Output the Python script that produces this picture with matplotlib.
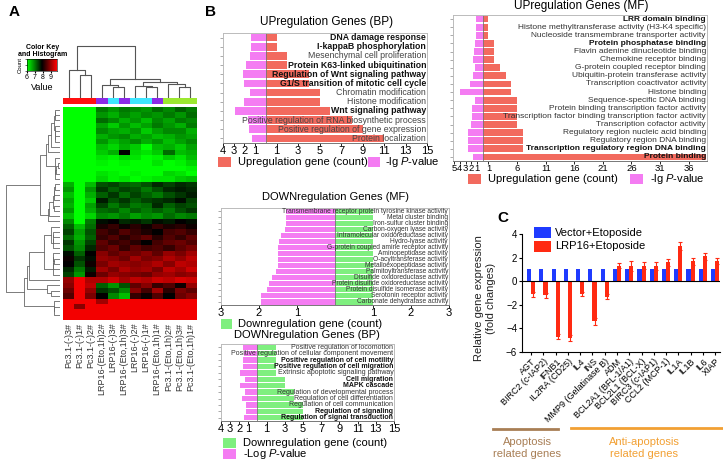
import numpy as np
import matplotlib
matplotlib.use("Agg")
import matplotlib.pyplot as plt
from matplotlib.colors import LinearSegmentedColormap, ListedColormap, Normalize
from matplotlib.patches import Rectangle

plt.rcParams["font.family"] = ["Liberation Sans", "DejaVu Sans"]
plt.rcParams["mathtext.fontset"] = "custom"
plt.rcParams["mathtext.rm"] = "Liberation Sans"
plt.rcParams["mathtext.it"] = "Liberation Sans:italic"

# ---------------- panel A: expression heatmap ----------------
samples = ["Pc3.1-(-)3#", "Pc3.1-(-)1#", "Pc3.1-(-)2#", "LRP16-(Eto,1h)2#",
           "LRP16-(-)3#", "LRP16-(Eto,1h)3#", "LRP16-(-)2#", "LRP16-(-)1#",
           "LRP16-(Eto,1h)1#", "Pc3.1-(Eto,1h)2#", "Pc3.1-(Eto,1h)3#",
           "Pc3.1-(Eto,1h)1#"]
sample_group = [0, 0, 0, 1, 2, 1, 2, 2, 1, 3, 3, 3]
group_colors = ["#FF1010", "#8C2BE8", "#3FE6FF", "#9CE830"]

expr = [
    [6.0, 6.0, 6.0, 7.0, 6.8, 7.0, 6.9, 6.8, 7.1, 6.9, 7.2, 7.0],
    [6.0, 6.0, 6.0, 6.8, 6.6, 6.9, 6.7, 6.9, 6.8, 7.0, 6.8, 7.1],
    [6.0, 6.0, 6.0, 7.1, 6.9, 6.6, 6.8, 6.5, 6.9, 6.7, 7.0, 6.9],
    [6.0, 6.0, 6.0, 6.7, 6.4, 6.8, 6.5, 6.7, 7.0, 6.8, 6.6, 7.0],
    [6.0, 6.0, 6.0, 6.9, 6.7, 6.6, 6.8, 6.4, 6.7, 6.9, 6.9, 6.6],
    [6.0, 6.0, 6.0, 6.6, 6.8, 6.9, 6.6, 6.7, 6.5, 6.6, 6.8, 6.7],
    [6.0, 6.0, 6.0, 6.8, 6.5, 6.7, 6.9, 6.6, 6.8, 6.5, 6.7, 6.9],
    [6.0, 6.0, 6.0, 6.5, 6.3, 6.6, 6.4, 6.0, 6.5, 6.6, 6.4, 6.7],
    [6.0, 6.0, 6.0, 6.4, 6.6, 7.9, 6.3, 6.2, 6.4, 7.1, 6.5, 6.6],
    [6.0, 6.0, 6.0, 6.2, 6.1, 6.3, 6.2, 6.0, 6.1, 6.4, 6.2, 6.5],
    [6.0, 6.0, 6.0, 6.1, 6.0, 6.1, 6.0, 6.0, 6.2, 6.0, 6.1, 6.3],
    [6.0, 6.0, 6.0, 6.0, 6.0, 6.0, 6.0, 6.0, 6.0, 6.0, 6.0, 6.1],
    [6.0, 6.0, 6.0, 6.2, 6.1, 6.0, 6.1, 6.0, 6.0, 6.3, 6.2, 6.0],
    [6.0, 6.0, 6.0, 6.3, 6.1, 6.2, 6.0, 6.1, 6.2, 6.2, 6.4, 6.5],
    [6.6, 6.0, 6.5, 7.3, 7.4, 7.2, 7.1, 7.3, 7.6, 7.4, 7.6, 7.5],
    [6.8, 6.0, 6.8, 7.5, 7.2, 7.4, 7.3, 7.0, 7.3, 7.6, 7.7, 7.6],
    [6.5, 6.0, 6.6, 7.2, 7.5, 7.1, 7.4, 7.2, 7.0, 7.3, 7.5, 7.7],
    [6.7, 6.0, 6.4, 7.7, 7.3, 7.5, 7.2, 7.4, 7.5, 7.6, 7.8, 7.4],
    [6.6, 6.0, 6.7, 7.4, 7.0, 7.3, 7.0, 7.1, 7.6, 7.2, 7.4, 7.3],
    [6.8, 6.0, 6.6, 7.1, 7.2, 6.9, 7.2, 7.0, 7.2, 7.0, 7.3, 7.5],
    [6.5, 6.0, 6.3, 6.9, 6.8, 7.0, 6.7, 6.9, 6.8, 7.1, 6.9, 7.0],
    [6.9, 6.0, 7.0, 7.8, 7.9, 7.6, 7.7, 7.5, 7.8, 7.7, 7.9, 7.8],
    [7.2, 6.5, 7.1, 8.1, 8.3, 8.0, 8.2, 8.0, 8.3, 8.1, 8.2, 8.0],
    [7.4, 6.7, 7.3, 8.4, 8.2, 8.5, 8.3, 8.1, 7.9, 8.4, 8.5, 8.3],
    [7.1, 6.6, 7.2, 8.3, 8.5, 8.2, 8.4, 8.6, 8.2, 8.5, 8.3, 8.6],
    [7.5, 6.8, 7.4, 8.6, 8.3, 8.4, 8.2, 7.9, 8.4, 8.6, 8.7, 8.5],
    [7.3, 6.9, 7.6, 8.5, 8.7, 8.3, 8.6, 8.4, 8.5, 8.3, 8.6, 8.8],
    [7.8, 7.2, 7.9, 8.9, 8.6, 8.8, 8.7, 8.9, 8.6, 9.0, 8.8, 9.1],
    [8.0, 7.5, 7.8, 9.0, 8.9, 8.7, 9.1, 8.8, 8.9, 9.2, 9.0, 9.3],
    [7.9, 7.3, 8.0, 8.8, 9.1, 9.0, 8.9, 9.0, 9.2, 8.9, 9.3, 9.2],
    [7.6, 7.0, 7.7, 9.1, 8.8, 9.2, 9.0, 9.1, 8.8, 9.3, 9.1, 9.4],
    [7.4, 6.8, 8.0, 8.7, 9.0, 8.9, 8.8, 8.7, 9.0, 9.1, 8.9, 9.0],
    [9.0, 9.7, 9.2, 9.2, 9.4, 9.1, 9.3, 9.2, 9.4, 9.3, 9.5, 9.4],
    [8.9, 9.7, 9.3, 7.2, 6.8, 7.3, 8.6, 8.9, 8.3, 8.5, 8.0, 9.0],
    [8.7, 9.7, 9.0, 7.5, 7.3, 6.9, 8.9, 8.4, 9.1, 8.2, 8.8, 8.6],
    [8.5, 9.7, 8.8, 7.9, 6.9, 6.5, 8.3, 8.0, 8.5, 7.9, 8.7, 8.9],
    [9.7, 9.7, 9.7, 9.1, 9.7, 9.7, 9.7, 9.7, 9.7, 9.7, 9.7, 9.7],
    [9.7, 8.9, 9.7, 9.7, 9.7, 9.7, 9.7, 9.7, 9.7, 9.7, 9.7, 9.7],
    [9.7, 9.7, 9.7, 9.7, 9.7, 9.7, 9.7, 9.7, 9.7, 9.7, 9.7, 9.7],
    [9.7, 9.7, 9.7, 9.7, 9.7, 9.7, 9.7, 9.7, 9.7, 9.7, 9.7, 9.7],
]

# sample tree: (child a, child b, height); leaves 0..11, merged clusters from 12
sample_tree = [(1, 2, 23), (0, 12, 27), (4, 5, 10.5), (3, 14, 13),
               (7, 8, 10.5), (6, 16, 12), (10, 11, 10.5), (9, 18, 13.5),
               (17, 19, 16), (15, 20, 19), (13, 21, 51)]

# ---------------- panel B: GO enrichment ----------------
bp_up_terms = ["DNA damage response", "I-kappaB phosphorylation",
               "Mesenchymal cell proliferation", "Protein K63-linked ubiquitination",
               "Regulation of Wnt signaling pathway",
               "G1/S transition of mitotic cell cycle", "Chromatin modification",
               "Histone modification", "Wnt signaling pathway",
               "Positive regulation of RNA biosynthetic process",
               "Positive regulation of gene expression", "Protein localization"]
bp_up_count = [1, 1, 2, 2, 4, 4, 5, 5, 6, 8, 9, 11]
bp_up_logp = [1.4, 1.4, 1.5, 1.9, 2.1, 2.0, 1.5, 2.0, 2.9, 1.7, 1.6, 1.3]
bp_up_bold = [1, 1, 0, 1, 1, 1, 0, 0, 1, 0, 0, 0]

mf_up_terms = ["LRR domain binding",
               "Histone methyltransferase activity (H3-K4 specific)",
               "Nucleoside transmembrane transporter activity",
               "Protein phosphatase binding", "Flavin adenine dinucleotide binding",
               "Chemokine receptor binding", "G-protein coupled receptor binding",
               "Ubiquitin-protein transferase activity",
               "Transcription coactivator activity", "Histone binding",
               "Sequence-specific DNA binding",
               "Protein binding transcription factor activity",
               "Transcription factor binding transcription factor activity",
               "Transcription cofactor activity",
               "Regulatory region nucleic acid binding",
               "Regulatory region DNA binding",
               "Transcription regulatory region DNA binding", "Protein binding"]
mf_up_count = [1, 1, 1, 2, 2, 2, 3, 4, 5, 5, 6, 6, 6, 6, 7, 7, 7, 39]
mf_up_logp = [1.2, 1.2, 1.2, 1.3, 1.5, 1.7, 1.3, 1.7, 2.3, 3.9, 1.3, 1.9,
              1.9, 2.0, 2.5, 2.5, 2.6, 1.7]
mf_up_bold = [1, 0, 0, 1, 0, 0, 0, 0, 0, 0, 0, 0, 0, 0, 0, 0, 1, 1]

mf_down_terms = ["Transmembrane receptor protein tyrosine kinase activity",
                 "Metal cluster binding", "Iron-sulfur cluster binding",
                 "Carbon-oxygen lyase activity",
                 "Intramolecular oxidoreductase activity", "Hydro-lyase activity",
                 "G-protein coupled amine receptor activity",
                 "Aminopeptidase activity", "O-acyltransferase activity",
                 "Metalloexopeptidase activity", "Palmitoyltransferase activity",
                 "Disulfide oxidoreductase activity",
                 "Protein disulfide oxidoreductase activity",
                 "Protein disulfide isomerase activity",
                 "Serotonin receptor activity", "Carbonate dehydratase activity"]
mf_down_count = [1] * 16
mf_down_logp = [1.28, 1.30, 1.30, 1.32, 1.41, 1.47, 1.50, 1.50, 1.51, 1.51,
                1.56, 1.65, 1.74, 1.79, 1.96, 1.96]

bp_down_terms = ["Positive regulation of locomotion",
                 "Positive regulation of cellular component movement",
                 "Positive regulation of cell motility",
                 "Positive regulation of cell migration",
                 "Extrinsic apoptotic signaling pathway", "Cell migration",
                 "MAPK cascade", "Regulation of developmental process",
                 "Regulation of cell differentiation",
                 "Regulation of cell communication", "Regulation of signaling",
                 "Regulation of signal transduction"]
bp_down_count = [2, 2, 2, 2, 2, 3, 3, 4, 4, 5, 5, 5]
bp_down_logp = [1.6, 1.5, 1.6, 1.6, 1.9, 1.4, 1.9, 1.4, 1.7, 1.3, 1.3, 1.5]
bp_down_bold = [0, 0, 1, 1, 0, 1, 1, 0, 0, 0, 1, 1]

# ---------------- panel C: qPCR ----------------
genes = ["AGT", "BIRC2 (c-IAP2)", "IFNB1", "IL2RA (CD25)", "IL4", "INS",
         "MMP9 (Gelatinase B)", "ADM", "BCL2A1 (BFL-1/A1)", "BCL2L1 (BCL-X)",
         "BIRC3 (c-IAP1)", "CCL2 (MCP-1)", "IL1A", "IL1B", "IL6", "XIAP"]
vector_fc = [1.0] * 16
lrp16_fc = [-1.1, -1.2, -4.7, -4.8, -1.1, -3.4, -1.3, 1.3, 1.3, 1.3, 1.3,
            1.6, 3.0, 1.7, 2.1, 1.7]
lrp16_err = [0.2, 0.2, 0.2, 0.25, 0.15, 0.3, 0.25, 0.2, 0.4, 0.3, 0.35,
             0.3, 0.35, 0.3, 0.3, 0.25]

W, H = 723, 462
RED, PINK, GREEN = "#F26A5E", "#F47CF2", "#7FEF7F"


def box(x0, y0, x1, y1):
    return [x0 / W, 1 - y1 / H, (x1 - x0) / W, (y1 - y0) / H]


fig = plt.figure(figsize=(W / 100, H / 100), dpi=100)


def ftext(x, y, s, **kw):
    fig.text(x / W, 1 - y / H, s, **kw)


def swatch(x0, y0, x1, y1, color):
    fig.add_artist(Rectangle((x0 / W, 1 - y1 / H), (x1 - x0) / W, (y1 - y0) / H,
                             transform=fig.transFigure, color=color, lw=0))


def tree_segments(tree, n):
    pos = {i: float(i) for i in range(n)}
    hts = {i: 0.0 for i in range(n)}
    segs = []
    for k, (a, b, h) in enumerate(tree):
        segs.append((pos[a], hts[a], pos[b], hts[b], h))
        pos[n + k] = (pos[a] + pos[b]) / 2
        hts[n + k] = h
    return segs


def adjacent_tree(X):
    # average linkage, only neighbouring clusters may merge (keeps row order)
    X = np.asarray(X)
    D = np.sqrt(((X[:, None, :] - X[None, :, :]) ** 2).sum(-1))
    groups = [[i] for i in range(len(X))]
    pos = [float(i) for i in range(len(X))]
    hts = [0.0] * len(X)
    segs = []
    while len(groups) > 1:
        d = [D[np.ix_(groups[k], groups[k + 1])].mean() for k in range(len(groups) - 1)]
        k = int(np.argmin(d))
        h = max(d[k], hts[k], hts[k + 1])
        segs.append((pos[k], hts[k], pos[k + 1], hts[k + 1], h))
        groups[k] = groups[k] + groups.pop(k + 1)
        pos[k] = (pos[k] + pos.pop(k + 1)) / 2
        hts.pop(k + 1)
        hts[k] = h
    return segs


# ---- A ----
cmap = LinearSegmentedColormap.from_list("greenred", ["#00FF00", "#000000", "#FF0000"])
norm = Normalize(vmin=6.0, vmax=9.8)
data = np.array(expr)

ax = fig.add_axes(box(63, 107, 196, 320))
ax.imshow(data, cmap=cmap, norm=norm, aspect="auto", interpolation="nearest")
ax.set_yticks([])
ax.set_xticks(range(len(samples)))
ax.set_xticklabels(samples, rotation=90, fontsize=6.5, color="#333")
ax.tick_params(axis="x", length=0, pad=2)
for s in ax.spines.values():
    s.set_visible(False)

ax = fig.add_axes(box(63, 98, 196, 104))
ax.imshow([sample_group], cmap=ListedColormap(group_colors), aspect="auto",
          interpolation="nearest", vmin=-0.5, vmax=3.5)
ax.axis("off")

ax = fig.add_axes(box(63, 45, 196, 98))
for pa, ha, pb, hb, h in tree_segments(sample_tree, len(samples)):
    ax.plot([pa, pa, pb, pb], [ha, h, h, hb], color="#555", lw=0.8)
ax.set_xlim(-0.5, len(samples) - 0.5)
ax.set_ylim(0, 52)
ax.axis("off")

ax = fig.add_axes(box(5, 107, 60, 320))
rsegs = adjacent_tree(data)
for pa, ha, pb, hb, h in rsegs:
    ax.plot([ha, h, h, hb], [pa, pa, pb, pb], color="#666", lw=0.6)
ax.set_ylim(len(data) - 0.5, -0.5)
ax.set_xlim(max(s[4] for s in rsegs) * 1.01, 0)
ax.axis("off")

ax = fig.add_axes(box(27, 59, 57, 71))
ax.imshow([np.linspace(6.0, 9.8, 100)], cmap=cmap, norm=norm, aspect="auto",
          extent=(6.0, 9.8, 0, 1))
ax.set_xticks([6, 7, 8, 9])
ax.tick_params(labelsize=5, length=1.5, pad=1)
ax.set_yticks([0, 0.5, 1])
ax.set_yticklabels([])
ax.tick_params(axis="y", length=1.2, width=0.4)
ax.set_xlabel("Value", fontsize=6.5, labelpad=1)
ax.set_ylabel("Count", fontsize=4.3, labelpad=0.5)
for s in ax.spines.values():
    s.set_linewidth(0.4)
ftext(43, 51, "Color Key\nand Histogram", fontsize=5, weight="bold", ha="center",
      va="center", linespacing=1.1)
ftext(9, 12, "A", fontsize=11, weight="bold", va="center")


# ---- B ----
def go_panel(rect, terms, counts, logp, bold, ccolor, xlim, lticks, rticks,
             fs, tfs, normal_color="#444"):
    ax = fig.add_axes(box(*rect))
    y = np.arange(len(terms))
    ax.barh(y, counts, height=0.84, color=ccolor, lw=0)
    ax.barh(y, -np.asarray(logp), height=0.84, color=PINK, lw=0)
    ax.axvline(0, color="#777", lw=0.6)
    ax.set_xlim(*xlim)
    ax.set_ylim(len(terms) - 0.5, -0.5)
    pad = (xlim[1] - xlim[0]) * 0.004
    for i, t in enumerate(terms):
        b = bold[i] if bold else 0
        ax.text(xlim[1] - pad, i, t, ha="right", va="center", fontsize=fs,
                weight="bold" if b else "normal",
                color="#111" if b else normal_color)
    ticks = [-t for t in lticks] + list(rticks)
    ax.set_xticks(ticks)
    ax.set_xticklabels([str(abs(t)) for t in ticks], fontsize=tfs)
    ax.set_yticks(y)
    ax.set_yticklabels([])
    ax.tick_params(axis="y", length=2, width=0.5, color="#888")
    ax.tick_params(axis="x", length=2, width=0.6, pad=0.5)
    for s in ax.spines.values():
        s.set_color("#BBBBBB")
        s.set_linewidth(0.7)
    ax.spines["bottom"].set_color("#777")
    return ax


go_panel((223, 33, 427, 143), bp_up_terms, bp_up_count, bp_up_logp, bp_up_bold,
         RED, (-4, 15), [4, 3, 2, 1], range(1, 16, 2), 6.3, 8)
ftext(327, 22, "UPregulation Genes (BP)", fontsize=8.5, ha="center", va="center")
swatch(218, 157, 231, 167, RED)
ftext(238, 162, "Upregulation gene (count)", fontsize=8, va="center")
swatch(368, 157, 380, 167, PINK)
ftext(385, 162, r"-lg $\mathit{P}$-value", fontsize=8, va="center")

go_panel((453, 15, 707, 161), mf_up_terms, mf_up_count, mf_up_logp, mf_up_bold,
         RED, (-5.2, 39.2), [5, 4, 3, 2, 1], range(1, 37, 5), 6.0, 6.8, "#333")
ftext(581, 6, "UPregulation Genes (MF)", fontsize=8.5, ha="center", va="center")
swatch(468, 174, 481, 184, RED)
ftext(488, 179, "Upregulation gene (count)", fontsize=8, va="center")
swatch(630, 174, 643, 184, PINK)
ftext(650, 179, r"-lg $\mathit{P}$-value", fontsize=8, va="center")

go_panel((221, 208, 449, 305), mf_down_terms, mf_down_count, mf_down_logp, None,
         GREEN, (-3, 3), [3, 2, 1], [1, 2, 3], 4.8, 8, "#333")
ftext(336, 197, "DOWNregulation Genes (MF)", fontsize=8, ha="center", va="center")
swatch(221, 319, 232, 329, GREEN)
ftext(238, 324, "Downregulation gene (count)", fontsize=8, va="center")

go_panel((221, 344, 394, 421), bp_down_terms, bp_down_count, bp_down_logp,
         bp_down_bold, GREEN, (-4, 15), [4, 3, 2, 1], range(1, 16, 2), 5.0, 8,
         "#333")
ftext(307, 335, "DOWNregulation Genes (BP)", fontsize=8, ha="center", va="center")
swatch(223, 438, 236, 448, GREEN)
ftext(243, 443, "Downregulation gene (count)", fontsize=8, va="center")
swatch(223, 449, 236, 459, PINK)
ftext(243, 454, r"-Log $\mathit{P}$-value", fontsize=8, va="center")
ftext(205, 12, "B", fontsize=11, weight="bold", va="center")

# ---- C ----
ax = fig.add_axes(box(522, 234, 720, 352))
x = np.arange(len(genes))
bw = 0.34
ax.bar(x - bw / 2, vector_fc, bw, color="#1F3BFF", lw=0)
ax.bar(x + bw / 2, lrp16_fc, bw, color="#FF2A12", lw=0,
       yerr=lrp16_err, error_kw=dict(ecolor="#FF2A12", capsize=1.2, elinewidth=0.8,
                                     capthick=0.8))
ax.axhline(0, color="black", lw=0.8)
ax.set_xlim(-0.75, len(genes) - 0.6)
ax.set_ylim(-6, 4)
ax.set_yticks([-6, -4, -2, 0, 2, 4])
ax.tick_params(axis="y", labelsize=7, length=2.5, width=0.8, pad=1)
ax.set_xticks(x)
ax.set_xticklabels(genes, rotation=45, ha="right", rotation_mode="anchor",
                   fontsize=6.5)
ax.tick_params(axis="x", length=2.5, width=0.8, pad=1)
for side in ("top", "right"):
    ax.spines[side].set_visible(False)
for side in ("left", "bottom"):
    ax.spines[side].set_linewidth(0.8)

ftext(485, 298, "Relative gene expression\n(fold changes)", fontsize=8,
      rotation=90, ha="center", va="center", multialignment="center",
      color="#222")
ftext(497, 218, "C", fontsize=11, weight="bold", va="center")
swatch(534, 227, 551, 238, "#1F3BFF")
ftext(555, 233, "Vector+Etoposide", fontsize=8, va="center")
swatch(534, 241, 551, 252, "#FF2A12")
ftext(555, 246, "LRP16+Etoposide", fontsize=8, va="center")

fig.add_artist(plt.Line2D([493 / W, 558 / W], [1 - 429 / H] * 2, color="#A87E55",
                          lw=2, transform=fig.transFigure))
fig.add_artist(plt.Line2D([571 / W, 723 / W], [1 - 428 / H] * 2, color="#F2A033",
                          lw=2, transform=fig.transFigure))
ftext(527, 448, "Apoptosis\nrelated genes", fontsize=8, ha="center", va="center",
      color="#A87E55", linespacing=1.2)
ftext(644, 448, "Anti-apoptosis\nrelated genes", fontsize=8, ha="center",
      va="center", color="#F2A033", linespacing=1.2)

fig.savefig("out.png", dpi=100)
